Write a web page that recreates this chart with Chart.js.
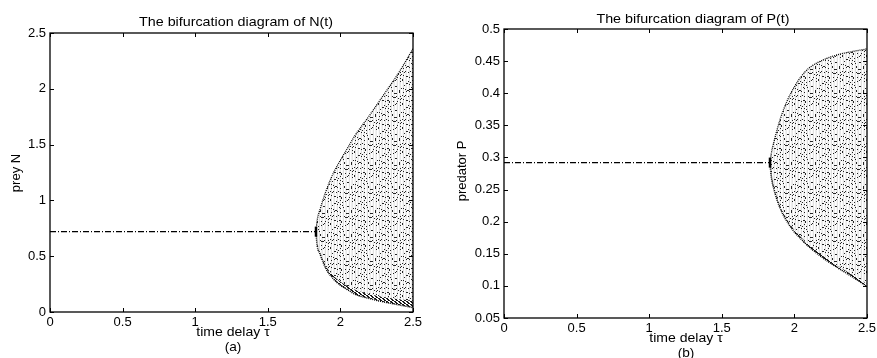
<!DOCTYPE html>
<html>
<head>
<meta charset="utf-8">
<script src="https://cdn.jsdelivr.net/npm/chart.js@4.4.1/dist/chart.umd.min.js"></script>
<style>
  html, body { margin: 0; padding: 0; background: #fff; }
  #wrap { position: relative; width: 877px; height: 358px; overflow: hidden; }
  .pane { position: absolute; top: 0; height: 358px; }
</style>
</head>
<body>
<div id="wrap">
  <div class="pane" style="left:0;width:440px"><canvas id="chartN" width="440" height="358"></canvas></div>
  <div class="pane" style="left:440px;width:437px"><canvas id="chartP" width="437" height="358"></canvas></div>
</div>
<script>
// tick labels
const tauTicks = [0, 0.5, 1, 1.5, 2, 2.5];
const nTicks = [0, 0.5, 1, 1.5, 2, 2.5];
const pTicks = [0.05, 0.1, 0.15, 0.2, 0.25, 0.3, 0.35, 0.4, 0.45, 0.5];

// stable equilibrium before the Hopf point
const tauSteady = [0, 1.832];
const nSteady = [0.72, 0.72];
const pSteady = [0.292, 0.292];

// envelope of the oscillation cloud after the Hopf point
const tauCloud = [1.832, 1.84, 1.86, 1.9, 1.95, 2.0, 2.05, 2.1, 2.2, 2.3, 2.4, 2.5];
const nUpper = [0.72, 0.82, 0.92, 1.08, 1.24, 1.36, 1.47, 1.58, 1.76, 1.95, 2.14, 2.36];
const nDense = [0.72, 0.61, 0.53, 0.41, 0.33, 0.27, 0.23, 0.20, 0.16, 0.135, 0.115, 0.10];
const nLower = [0.72, 0.60, 0.52, 0.39, 0.30, 0.24, 0.20, 0.16, 0.12, 0.09, 0.065, 0.04];
const pUpper = [0.292, 0.305, 0.325, 0.358, 0.388, 0.41, 0.427, 0.439, 0.452, 0.46, 0.465, 0.469];
const pDense = [0.292, 0.274, 0.253, 0.225, 0.203, 0.187, 0.175, 0.164, 0.146, 0.131, 0.117, 0.103];
const pLower = [0.292, 0.272, 0.25, 0.222, 0.2, 0.184, 0.172, 0.161, 0.143, 0.128, 0.114, 0.099];

const FONT = '"Liberation Sans", Arial, Helvetica, sans-serif';

// scattered-dot texture with vertical streaks (hash dither, style only)
function dotPattern() {
  const tile = document.createElement('canvas');
  tile.width = 24; tile.height = 24;
  const c = tile.getContext('2d');
  for (let x = 0; x < 24; x++) {
    const shade = [0.03, 0.12, 0.0, 0.06, 0.09, 0.0][x % 6];
    c.fillStyle = 'rgba(0,0,0,' + shade + ')';
    c.fillRect(x, 0, 1, 24);
    const dens = 6 + ((x * 5) % 7) * 1.5;
    c.fillStyle = 'rgba(0,0,0,0.85)';
    for (let y = 0; y < 24; y++) {
      if ((x * 73 + y * 151 + x * y * 29) % 97 < dens) c.fillRect(x, y, 1, 1);
    }
  }
  return c.createPattern(tile, 'repeat');
}

// dense texture for the dark band along the lower edge
function densePattern() {
  const tile = document.createElement('canvas');
  tile.width = 4; tile.height = 3;
  const c = tile.getContext('2d');
  c.fillStyle = 'rgba(0,0,0,0.9)';
  [[0,0],[1,0],[2,1],[3,1],[0,2],[3,2]].forEach(p => c.fillRect(p[0], p[1], 1, 1));
  return c.createPattern(tile, 'repeat');
}

function pts(xs, ys) {
  return xs.map((x, i) => ({x: x, y: ys[i]}));
}

function stretchText(ctx, s, x, y, k) {
  ctx.save();
  ctx.translate(x, y);
  ctx.scale(k, 1);
  ctx.fillText(s, 0, 0);
  ctx.restore();
}

// MATLAB-like box, inward ticks and text
function framePlugin(txt) {
  return {
    id: 'frame',
    afterDraw(chart) {
      const ctx = chart.ctx;
      const a = chart.chartArea;
      const xs = chart.scales.x, ys = chart.scales.y;
      ctx.save();
      ctx.strokeStyle = '#000';
      ctx.lineWidth = 1.3;
      ctx.strokeRect(a.left, a.top, a.right - a.left, a.bottom - a.top);
      ctx.lineWidth = 1;
      ctx.beginPath();
      xs.ticks.forEach(t => {
        const x = Math.round(xs.getPixelForValue(t.value)) + 0.5;
        ctx.moveTo(x, a.bottom); ctx.lineTo(x, a.bottom - 4);
        ctx.moveTo(x, a.top); ctx.lineTo(x, a.top + 4);
      });
      ys.ticks.forEach(t => {
        const y = Math.round(ys.getPixelForValue(t.value)) + 0.5;
        ctx.moveTo(a.left, y); ctx.lineTo(a.left + 4, y);
        ctx.moveTo(a.right, y); ctx.lineTo(a.right - 4, y);
      });
      ctx.stroke();

      ctx.fillStyle = '#000';
      ctx.textAlign = 'center';
      ctx.textBaseline = 'middle';
      ctx.font = '13px ' + FONT;
      stretchText(ctx, txt.title, txt.titleX, txt.titleY, 1.1);
      stretchText(ctx, 'time delay \u03c4', txt.xlX, txt.xlY, 1.08);
      stretchText(ctx, txt.tag, txt.xlX, txt.xlY + 15, 1.05);
      ctx.translate(txt.ylX, txt.ylY);
      ctx.rotate(-Math.PI / 2);
      ctx.fillText(txt.ylabel, 0, 0);
      ctx.restore();
    }
  };
}

function makeChart(id, yTicks, ySteady, yUpper, yDense, yLower, cfg) {
  const edge = {borderColor: '#000', borderDash: [1, 1], pointRadius: 0, cubicInterpolationMode: 'monotone'};
  new Chart(document.getElementById(id), {
    type: 'line',
    data: {
      datasets: [
        {data: pts(tauSteady, ySteady), borderColor: '#000', borderWidth: 1.2,
         borderDash: [6, 2, 1, 2], pointRadius: 0, fill: false},
        Object.assign({data: pts(tauCloud, yLower), borderWidth: 1.6, fill: false}, edge),
        {data: pts(tauCloud, yDense), borderWidth: 0, borderColor: 'rgba(0,0,0,0)', pointRadius: 0,
         cubicInterpolationMode: 'monotone', fill: '-1', backgroundColor: densePattern()},
        Object.assign({data: pts(tauCloud, yUpper), borderWidth: 1.3, fill: '-1',
         backgroundColor: dotPattern()}, edge),
        {data: pts([tauSteady[1]], [ySteady[1]]), pointStyle: 'line', rotation: 90,
         pointRadius: 5, pointBorderWidth: 2.5, borderColor: '#000', showLine: false}
      ]
    },
    options: {
      responsive: false,
      animation: false,
      layout: {padding: cfg.padding},
      plugins: {legend: {display: false}, tooltip: {enabled: false}},
      scales: {
        x: {
          type: 'linear', min: 0, max: 2.5,
          grid: {display: false, drawTicks: false}, border: {display: false},
          afterBuildTicks: s => { s.ticks = tauTicks.map(v => ({value: v})); },
          afterFit: s => { s.height = 20; s.paddingLeft = 0; s.paddingRight = 0; },
          ticks: {color: '#000', padding: 3, maxRotation: 0, autoSkip: false,
                  font: {family: FONT, size: 13}, callback: v => String(v)}
        },
        y: {
          type: 'linear', min: yTicks[0], max: yTicks[yTicks.length - 1],
          grid: {display: false, drawTicks: false}, border: {display: false},
          afterBuildTicks: s => { s.ticks = yTicks.map(v => ({value: v})); },
          afterFit: s => { s.width = cfg.yWidth; s.paddingTop = 0; s.paddingBottom = 0; },
          ticks: {color: '#000', padding: 4, autoSkip: false,
                  font: {family: FONT, size: 13}, callback: v => String(v)}
        }
      }
    },
    plugins: [framePlugin(cfg.text)]
  });
}

makeChart('chartN', nTicks, nSteady, nUpper, nDense, nLower, {
  padding: {left: 0, right: 27, top: 33, bottom: 26},
  yWidth: 50,
  text: {title: 'The bifurcation diagram of N(t)', titleX: 236, titleY: 22,
         xlX: 233, xlY: 332, tag: '(a)', ylabel: 'prey N', ylX: 16, ylY: 173}
});

makeChart('chartP', pTicks, pSteady, pUpper, pDense, pLower, {
  padding: {left: 0, right: 10, top: 29, bottom: 20},
  yWidth: 64,
  text: {title: 'The bifurcation diagram of P(t)', titleX: 253, titleY: 19,
         xlX: 246, xlY: 338, tag: '(b)', ylabel: 'predator P', ylX: 22, ylY: 171}
});
</script>
</body>
</html>
